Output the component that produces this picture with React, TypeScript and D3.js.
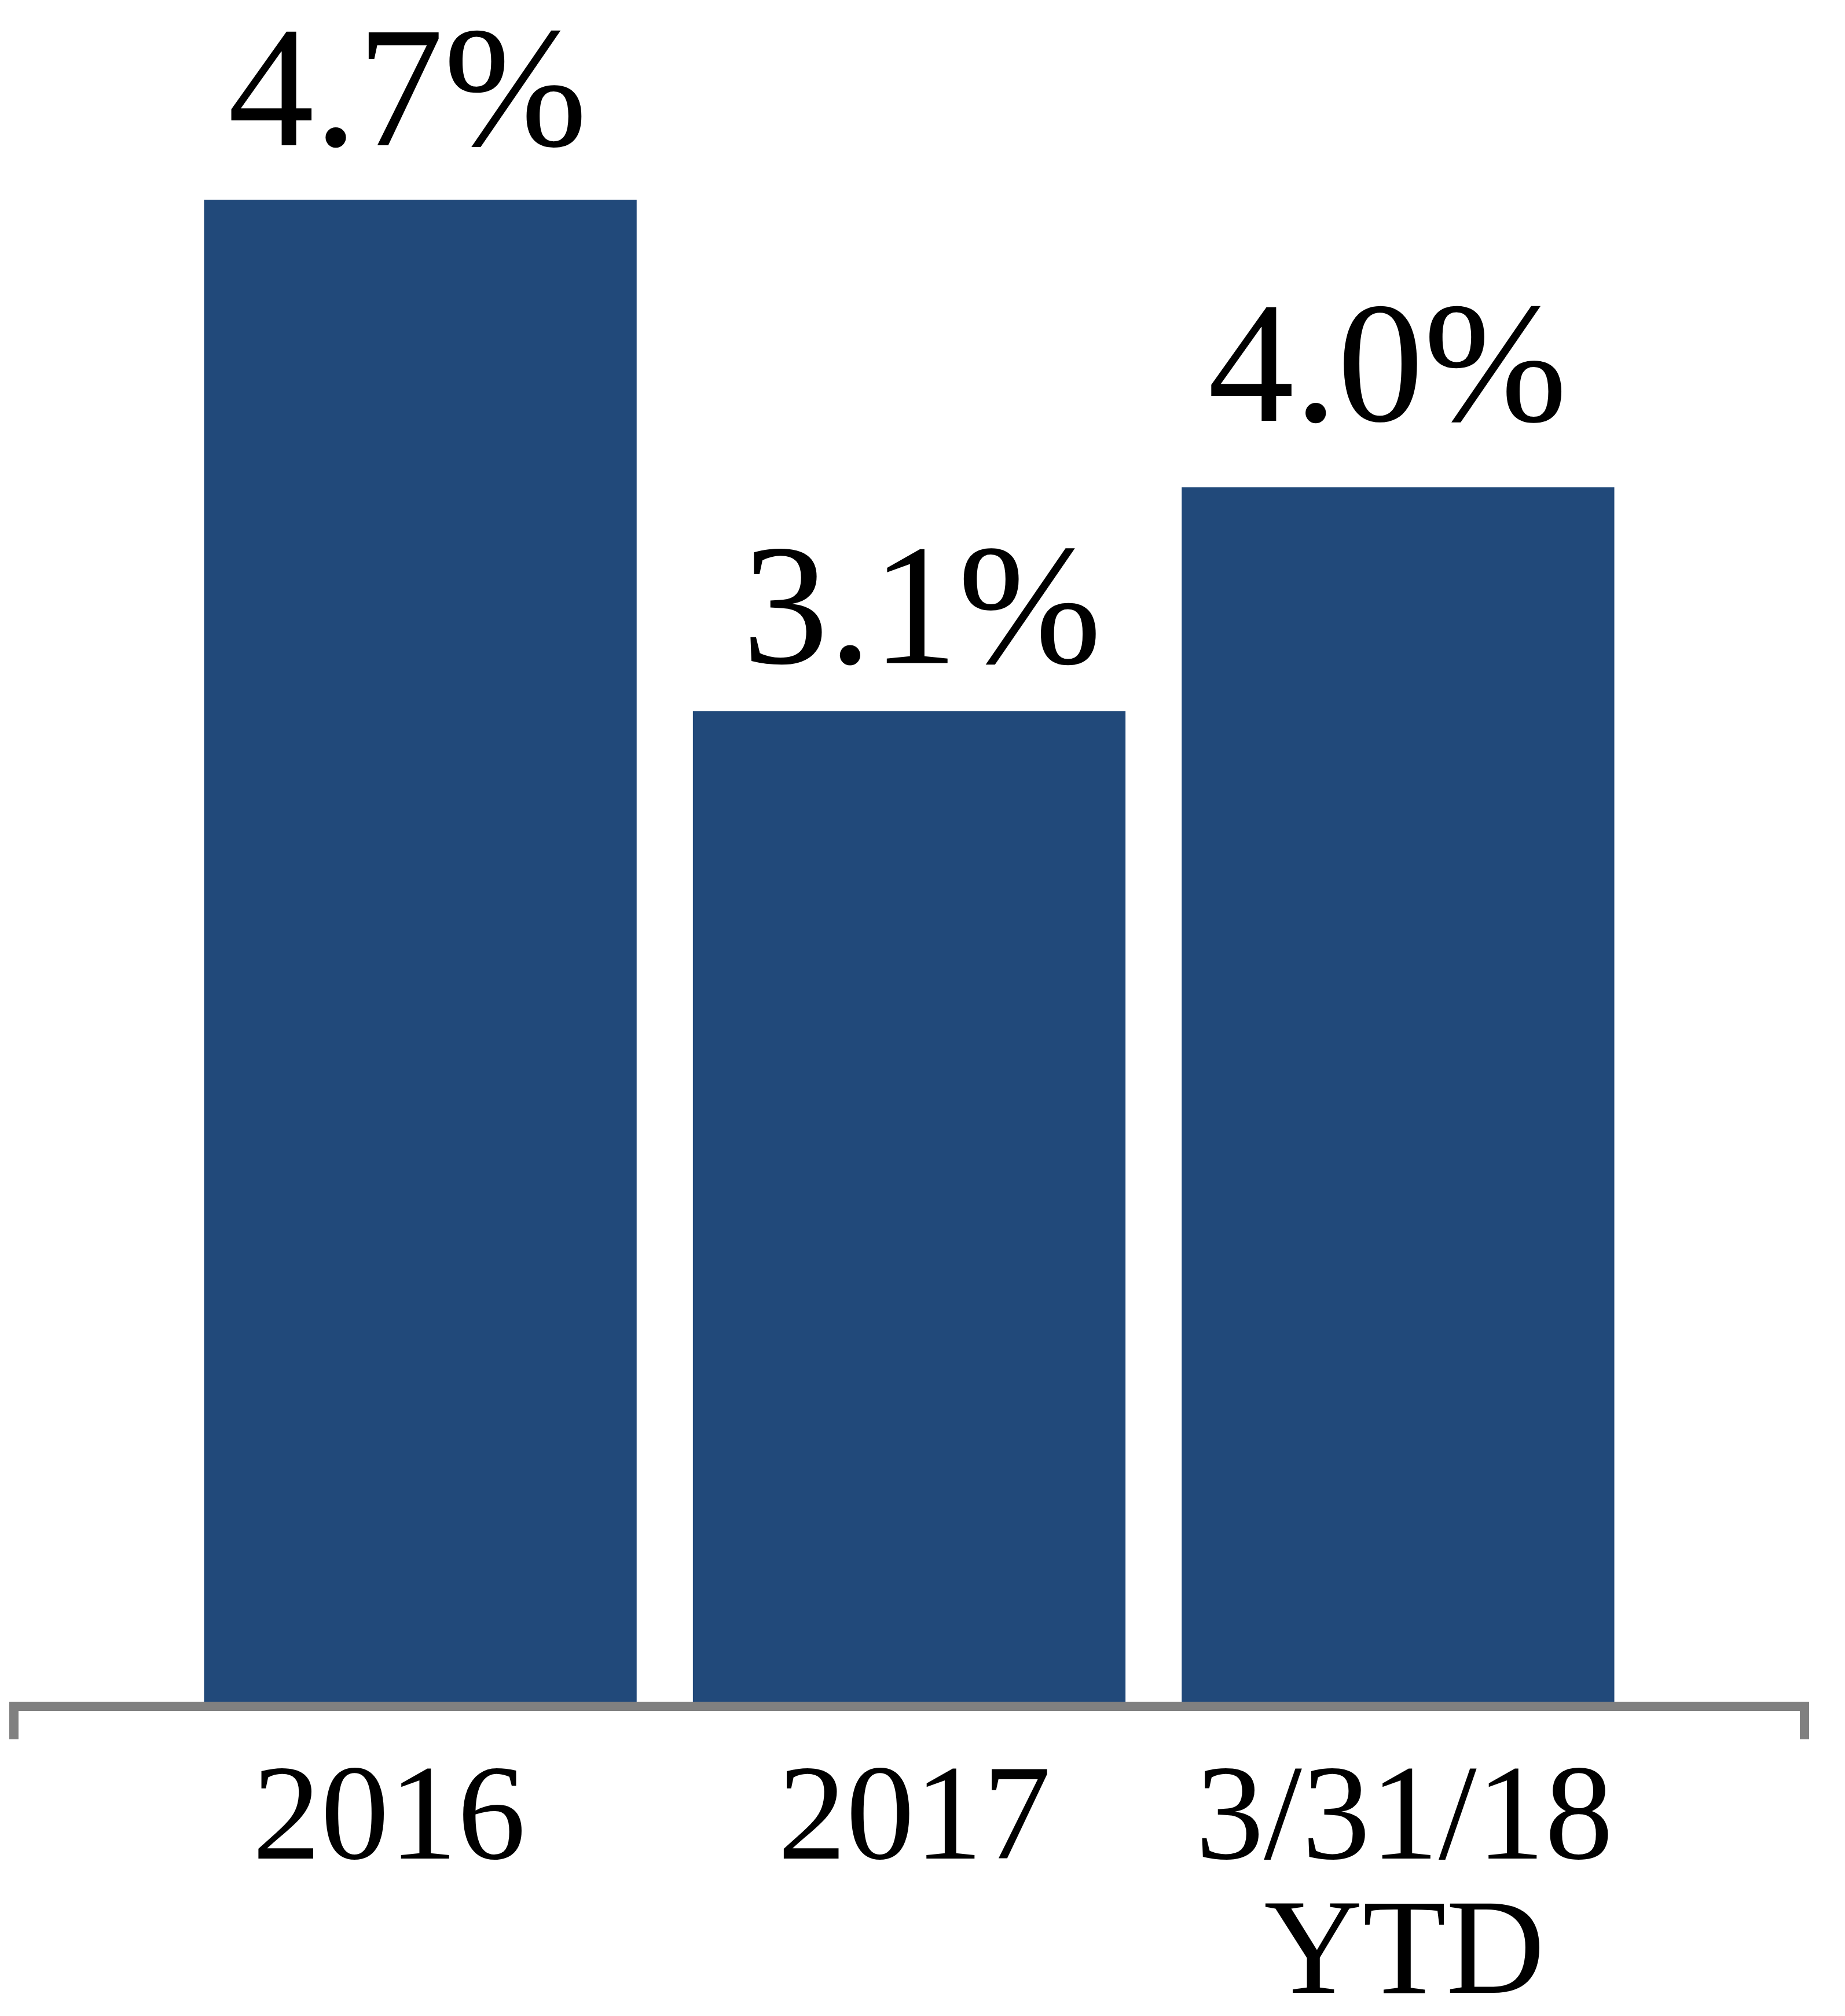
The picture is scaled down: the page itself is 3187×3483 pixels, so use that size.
import React from "react";
import * as d3 from "d3";

const categories = ["2016", "2017", "3/31/18 YTD"];
const categoryLines = [["2016"], ["2017"], ["3/31/18", "YTD"]];
const values = [4.7, 3.1, 3.8];
const valueLabels = ["4.7%", "3.1%", "4.0%"];

const W = 3187;
const H = 3483;
const BAR = "#21497A";
const AXIS = "#808080";
const FONT = "'Liberation Serif', 'Times New Roman', serif";

// layout nudges (pixels)
const valueLabelDx = [-22, 22, -18];
const valueLabelGap = [94, 83, 115];
const catLabelDx = [-54, 9, 11];

export default function App() {
  const x = d3
    .scaleBand<string>()
    .domain(categories)
    .range([24, 3117])
    .paddingInner(0.115)
    .paddingOuter(0.389);
  const y = d3.scaleLinear().domain([0, 4.7]).range([2940, 345]);
  const axisY = 2948;
  const [x0, x1] = x.range();

  return (
    <svg
      width={W}
      height={H}
      viewBox={`0 0 ${W} ${H}`}
      style={{ position: "absolute", left: 0, top: 0, background: "#fff" }}
    >
      <rect x={0} y={0} width={W} height={H} fill="#fff" />
      {categories.map((c, i) => (
        <rect
          key={c}
          x={x(c)}
          y={y(values[i])}
          width={x.bandwidth()}
          height={y(0) - y(values[i])}
          fill={BAR}
        />
      ))}
      {categories.map((c, i) => (
        <text
          key={"v" + c}
          x={(x(c) as number) + x.bandwidth() / 2 + valueLabelDx[i]}
          y={y(values[i]) - valueLabelGap[i]}
          textAnchor="middle"
          fontFamily={FONT}
          fontSize={298}
          fill="#000"
        >
          {valueLabels[i]}
        </text>
      ))}
      <line x1={x0 - 8} x2={x1 + 8} y1={axisY} y2={axisY} stroke={AXIS} strokeWidth={16} />
      <line x1={x0} x2={x0} y1={axisY} y2={3005} stroke={AXIS} strokeWidth={16} />
      <line x1={x1} x2={x1} y1={axisY} y2={3005} stroke={AXIS} strokeWidth={16} />
      {categories.map((c, i) => (
        <text
          key={"c" + c}
          x={(x(c) as number) + x.bandwidth() / 2 + catLabelDx[i]}
          y={3211}
          textAnchor="middle"
          fontFamily={FONT}
          fontSize={236}
          fill="#000"
        >
          {categoryLines[i].map((ln, j) => (
            <tspan key={j} x={(x(c) as number) + x.bandwidth() / 2 + catLabelDx[i]} dy={j === 0 ? 0 : 232}>
              {ln}
            </tspan>
          ))}
        </text>
      ))}
    </svg>
  );
}
